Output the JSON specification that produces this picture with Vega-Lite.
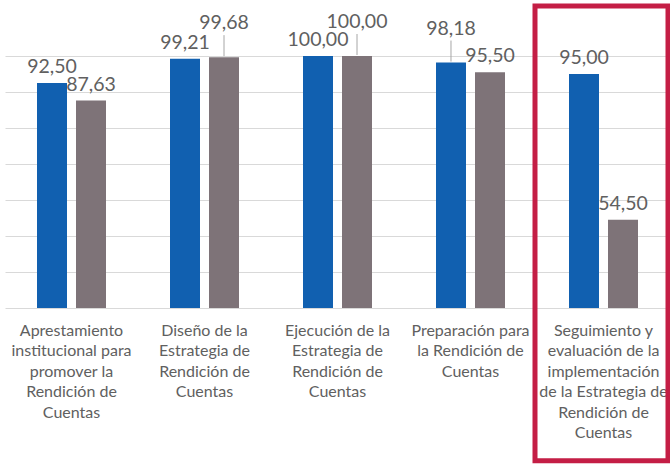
{
  "$schema": "https://vega.github.io/schema/vega-lite/v6.json",
  "width": 665,
  "height": 252,
  "autosize": "none",
  "padding": {"left": 5, "top": 56, "right": 0, "bottom": 158},
  "background": "white",
  "config": {
    "view": {"stroke": null},
    "font": "Lato",
    "locale": {"number": {"decimal": ",", "thousands": ".", "grouping": [3], "currency": ["", " €"]}}
  },
  "data": {
    "values": [
      {"etapa": "Aprestamiento|institucional para|promover la|Rendición de|Cuentas", "serie": "Serie 1", "valor": 92.50},
      {"etapa": "Aprestamiento|institucional para|promover la|Rendición de|Cuentas", "serie": "Serie 2", "valor": 87.63},
      {"etapa": "Diseño de la|Estrategia de|Rendición de|Cuentas", "serie": "Serie 1", "valor": 99.21},
      {"etapa": "Diseño de la|Estrategia de|Rendición de|Cuentas", "serie": "Serie 2", "valor": 99.68},
      {"etapa": "Ejecución de la|Estrategia de|Rendición de|Cuentas", "serie": "Serie 1", "valor": 100.00},
      {"etapa": "Ejecución de la|Estrategia de|Rendición de|Cuentas", "serie": "Serie 2", "valor": 100.00},
      {"etapa": "Preparación para|la Rendición de|Cuentas", "serie": "Serie 1", "valor": 98.18},
      {"etapa": "Preparación para|la Rendición de|Cuentas", "serie": "Serie 2", "valor": 95.50},
      {"etapa": "Seguimiento y|evaluación de la|implementación|de la Estrategia de|Rendición de|Cuentas", "serie": "Serie 1", "valor": 95.00},
      {"etapa": "Seguimiento y|evaluación de la|implementación|de la Estrategia de|Rendición de|Cuentas", "serie": "Serie 2", "valor": 54.50}
    ]
  },
  "encoding": {
    "x": {
      "field": "etapa",
      "type": "nominal",
      "sort": null,
      "title": null,
      "scale": {"paddingInner": 0, "paddingOuter": 0},
      "axis": {
        "domain": false,
        "ticks": false,
        "labelAngle": 0,
        "labelExpr": "split(datum.value, '|')",
        "labelFont": "Lato",
        "labelFontSize": 16,
        "labelColor": "#606060",
        "labelLineHeight": 20.5,
        "labelPadding": 14,
        "labelBaseline": "top",
        "labelOverlap": false,
        "labelBound": false,
        "labelLimit": 200
      }
    }
  },
  "layer": [
    {
      "mark": {"type": "bar"},
      "encoding": {
        "xOffset": {"field": "serie", "type": "nominal", "scale": {"paddingInner": 0.2308, "paddingOuter": 0.8205}},
        "y": {
          "field": "valor",
          "type": "quantitative",
          "title": null,
          "scale": {"domain": [30, 100], "nice": false, "zero": false},
          "axis": {
            "labels": false,
            "ticks": false,
            "domain": false,
            "grid": true,
            "gridColor": "#d9d9d9",
            "gridWidth": 1,
            "tickCount": 7,
            "labelOverlap": false
          }
        },
        "y2": {"datum": 30},
        "color": {
          "field": "serie",
          "type": "nominal",
          "legend": null,
          "scale": {"domain": ["Serie 1", "Serie 2"], "range": ["#1160b0", "#7e7378"]}
        }
      }
    },
    {
      "transform": [{"filter": "!((datum.serie=='Serie 1' && indexof(datum.etapa,'Preparación')==0) || (datum.serie=='Serie 2' && (indexof(datum.etapa,'Diseño')==0 || indexof(datum.etapa,'Ejecución')==0)))"}],
      "mark": {"type": "text", "baseline": "middle", "align": "center", "dy": -16, "fontSize": 19.5, "color": "#606060", "font": "Lato"},
      "encoding": {
        "xOffset": {"field": "serie", "type": "nominal"},
        "y": {"field": "valor", "type": "quantitative"},
        "text": {"field": "valor", "type": "quantitative", "format": ".2f"}
      }
    },
    {
      "transform": [{"filter": "(datum.serie=='Serie 1' && indexof(datum.etapa,'Preparación')==0) || (datum.serie=='Serie 2' && (indexof(datum.etapa,'Diseño')==0 || indexof(datum.etapa,'Ejecución')==0))"}],
      "mark": {"type": "text", "baseline": "middle", "align": "center", "dy": -34, "fontSize": 19.5, "color": "#606060", "font": "Lato"},
      "encoding": {
        "xOffset": {"field": "serie", "type": "nominal"},
        "y": {"field": "valor", "type": "quantitative"},
        "text": {"field": "valor", "type": "quantitative", "format": ".2f"}
      }
    },
    {
      "transform": [{"filter": "(datum.serie=='Serie 1' && indexof(datum.etapa,'Preparación')==0) || (datum.serie=='Serie 2' && (indexof(datum.etapa,'Diseño')==0 || indexof(datum.etapa,'Ejecución')==0))"}],
      "mark": {"type": "rule", "color": "#a6a6a6", "strokeWidth": 1, "yOffset": -1, "y2Offset": -22},
      "encoding": {
        "xOffset": {"field": "serie", "type": "nominal"},
        "y": {"field": "valor", "type": "quantitative"},
        "y2": {"field": "valor"}
      }
    },
    {
      "data": {"values": [{"etapa": "Seguimiento y|evaluación de la|implementación|de la Estrategia de|Rendición de|Cuentas"}]},
      "mark": {"type": "rect", "fillOpacity": 0, "stroke": "#c41e45", "strokeWidth": 5, "xOffset": -2, "x2Offset": -1},
      "encoding": {
        "y": {"datum": 113.9},
        "y2": {"datum": -12.4}
      }
    }
  ]
}
